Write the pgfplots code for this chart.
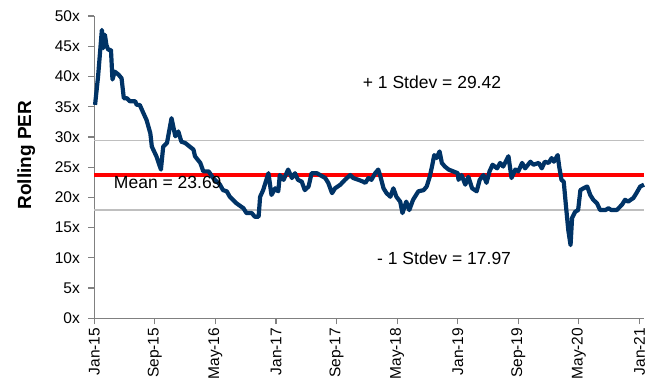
\documentclass[border=0pt]{standalone}
\usepackage{fontspec}
\setmainfont{Liberation Sans}
\usepackage{pgfplots}
\pgfplotsset{compat=1.18}
\definecolor{navy}{RGB}{0,51,102}
\definecolor{axisgray}{RGB}{128,128,128}
\definecolor{lgray}{RGB}{191,191,191}
\begin{document}
\begin{tikzpicture}
\begin{axis}[
  scale only axis, width=549.7pt, height=302.3pt,
  xmin=0, xmax=72.6, ymin=0, ymax=50,
  axis x line*=bottom, axis y line*=left,
  axis line style={draw=axisgray, line width=1.5pt, -},
  ytick={0,5,...,50},
  yticklabels={0x,5x,10x,15x,20x,25x,30x,35x,40x,45x,50x},
  xtick={0,8,...,72},
  xticklabels={Jan-15,Sep-15,May-16,Jan-17,Sep-17,May-18,Jan-19,Sep-19,May-20,Jan-21},
  tick align=outside, major tick length=6pt,
  tick style={draw=axisgray, line width=1.2pt},
  xticklabel style={rotate=90, anchor=east, font=\fontsize{15.5}{15.5}\selectfont},
  yticklabel style={font=\fontsize{15.5}{15.5}\selectfont, xshift=-5pt},
  ylabel={Rolling PER},
  ylabel style={font=\fontsize{19}{19}\selectfont\bfseries, at={(axis description cs:-0.1237,0.54)}, anchor=center},
  clip=false,
]
\addplot[lgray, line width=1.8pt] coordinates {(0,29.42) (72.6,29.42)};
\addplot[lgray, line width=1.8pt] coordinates {(0,17.97) (72.6,17.97)};
\addplot[red, line width=4pt] coordinates {(0,23.69) (72.6,23.69)};
\addplot[navy, line width=4.2pt, line join=round] coordinates {
(0.1,35.3) (0.5,40.0) (1.0,47.7) (1.2,44.7) (1.4,46.9) (1.6,45.2) (1.85,44.4) (2.2,44.4)
(2.4,39.5) (2.7,40.8) (3.2,40.3) (3.6,39.7) (3.9,36.4) (4.3,36.4) (4.7,35.9) (5.4,35.9)
(5.6,35.3) (6.0,35.3) (6.5,33.9) (6.9,32.8) (7.4,30.6) (7.6,28.4) (8.2,26.8) (8.8,24.6)
(9.1,28.4) (9.6,29.0) (10.2,33.1) (10.7,30.1) (11.1,30.9) (11.5,29.2) (12.0,29.0) (12.6,28.4)
(13.1,27.9) (13.3,26.8) (14.0,25.7) (14.4,24.3) (15.1,24.3) (15.7,23.2) (16.6,22.1) (17.0,21.2)
(17.5,21.0) (17.9,20.1) (18.8,19.0) (19.7,18.2) (20.1,17.4) (20.8,17.4) (21.2,16.8) (21.7,16.8)
(21.9,20.1) (22.3,21.2) (23.0,24.0) (23.4,20.4) (23.9,21.5) (24.3,21.0) (24.5,23.7) (25.0,22.9)
(25.6,24.6) (26.1,23.2) (26.5,24.0) (26.9,22.9) (27.4,22.6) (27.8,21.2) (28.3,21.8) (28.7,24.0)
(29.4,24.0) (29.8,23.7) (30.5,23.2) (30.9,22.4) (31.4,20.7) (31.8,21.5) (32.5,22.1) (33.1,22.9)
(33.8,23.7) (34.2,23.2) (34.9,22.9) (35.5,22.6) (35.8,22.4) (36.2,23.2) (36.6,22.9) (37.1,24.0)
(37.5,24.6) (37.8,23.4) (38.2,21.5) (38.6,20.7) (39.1,20.1) (39.5,21.5) (39.9,20.1) (40.4,19.3)
(40.7,17.4) (41.2,19.3) (41.6,17.9) (42.1,19.6) (42.8,21.0) (43.5,21.2) (43.9,21.8) (44.3,23.4)
(44.6,25.1) (44.9,27.0) (45.2,26.5) (45.6,27.6) (45.9,25.7) (46.3,25.1) (46.8,24.6) (47.4,24.3)
(48.0,24.0) (48.1,22.9) (48.5,23.7) (49.0,22.1) (49.4,23.4) (49.9,21.5) (50.5,21.0) (50.9,22.9)
(51.4,23.7) (51.8,22.4) (52.2,24.3) (52.6,25.4) (53.2,24.8) (53.6,25.7) (54.0,25.1) (54.7,26.8)
(55.1,23.2) (55.6,24.6) (56.0,24.3) (56.5,25.7) (56.9,24.8) (57.6,25.9) (58.0,25.4) (58.7,25.7)
(59.1,24.8) (59.5,25.9) (60.0,25.7) (60.4,26.5) (60.7,25.9) (61.2,27.0) (61.4,25.1) (61.7,22.9)
(62.0,22.6) (62.3,18.5) (62.6,14.6) (62.9,12.1) (63.1,16.6) (63.5,17.6) (63.9,17.9) (64.2,21.2)
(64.6,21.5) (65.1,21.8) (65.5,20.4) (65.9,19.6) (66.4,19.0) (66.8,17.9) (67.5,17.9) (67.9,18.2)
(68.3,17.9) (69.0,17.9) (69.7,18.8) (70.1,19.6) (70.5,19.3) (71.2,19.9) (71.6,20.7) (72.1,21.8)
(72.6,22.1)
};
\node[font=\fontsize{17.5}{17.5}\selectfont, inner sep=0pt] at (axis cs:9.7,22.45) {Mean = 23.69};
\node[font=\fontsize{17.5}{17.5}\selectfont, inner sep=0pt] at (axis cs:44.6,39.0) {+ 1 Stdev = 29.42};
\node[font=\fontsize{17.5}{17.5}\selectfont, inner sep=0pt] at (axis cs:46.2,10.0) {- 1 Stdev = 17.97};
\end{axis}
\pgfresetboundingbox
\path ([shift={(-94.3pt,-66.7pt)}]current axis.south west) rectangle ([shift={(564.7pt,318.3pt)}]current axis.south west);
\end{tikzpicture}
\end{document}
